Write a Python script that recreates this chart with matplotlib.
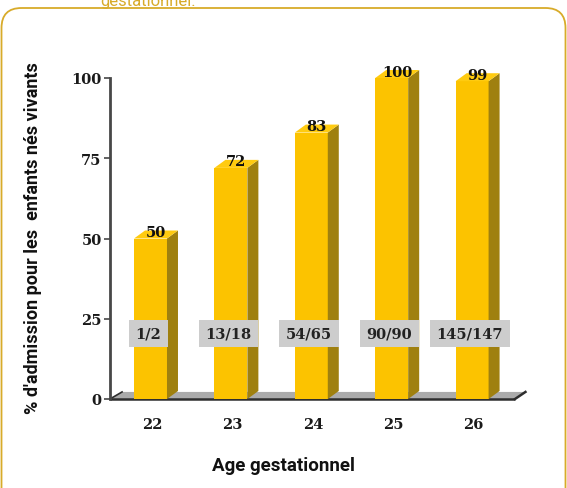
import matplotlib
matplotlib.use("Agg")
import matplotlib.pyplot as plt
from matplotlib.patches import Polygon, FancyBboxPatch

# data
ages = ["22", "23", "24", "25", "26"]
pct_admitted = [50, 72, 83, 100, 99]
counts = ["1/2", "13/18", "54/65", "90/90", "145/147"]
yticks = [0, 25, 50, 75, 100]

W, H = 567, 489
front = "#fcc300"
side = "#9f800f"
top = "#ffcb10"
gold = "#d8ab2a"
axis_col = "#474747"
narrow = ["Roboto", "DejaVu Sans"]
wide = ["DejaVu Serif"]

fig = plt.figure(figsize=(W / 100, H / 100), dpi=100)
fig.patch.set_facecolor("white")

### background layer in pixel coords: rounded frame + cut off caption
bg = fig.add_axes([0, 0, 1, 1], zorder=0)
bg.set_xlim(0, W)
bg.set_ylim(H, 0)
bg.axis("off")
frame = FancyBboxPatch((1.5, 9), W - 3, 600, boxstyle="round,pad=0,rounding_size=20",
                       fill=False, edgecolor=gold, lw=1.3)
bg.add_patch(frame)
bg.text(100, 6, "gestationnel.", color=gold, fontsize=12, family=narrow,
        ha="left", va="baseline")
bg.text(283, 466, "Age gestationnel", fontsize=13.5, fontweight="bold", family=narrow,
        ha="center", va="center", color="#111111")
bg.text(33, 238, "% d'admission pour les  enfants nés vivants", fontsize=13,
        fontweight="bold", family=narrow, rotation=90, ha="center", va="center",
        color="#111111")

### main axes, 0..100 spans pixel rows 400..79
left_px, right_px = 110, 530
y0_px, y100_px = 400, 79
ax = fig.add_axes([left_px / W, (H - y0_px) / H, (right_px - left_px) / W,
                   (y0_px - y100_px) / H], zorder=1)
ax.patch.set_alpha(0)
px_per_x = 80.4
xleft = -40.5 / px_per_x
ax.set_xlim(xleft, xleft + (right_px - left_px) / px_per_x)
ax.set_ylim(0, 100)

w = 0.41
dx = 11 / px_per_x
dy = 8 / 3.21

xs = list(range(len(ages)))

# floor
fx1 = (515 - 150.5) / px_per_x
floor = Polygon([[xleft, 0], [fx1, 0], [fx1 + 0.13, 2.2], [xleft + 0.15, 2.2]],
                closed=True, facecolor="#ababab", edgecolor="none", zorder=1,
                clip_on=False)
ax.add_patch(floor)
ax.plot([xleft, fx1], [0, 0], color="#2e2e2e", lw=1.8, zorder=2, clip_on=False,
        solid_capstyle="butt")
ax.plot([fx1, fx1 + 0.13], [0, 2.2], color="#2e2e2e", lw=1.8, zorder=2, clip_on=False)
ax.plot([xleft, xleft + 0.15], [0, 2.2], color="#2e2e2e", lw=1.2, zorder=2, clip_on=False)

# bars with fake depth
ax.bar(xs, pct_admitted, width=w, color=front, zorder=3, clip_on=False)
for x, v in zip(xs, pct_admitted):
    r = x + w / 2
    l = x - w / 2
    ax.add_patch(Polygon([[r, 0], [r + dx, dy], [r + dx, v + dy], [r, v]],
                         closed=True, facecolor=side, edgecolor="none", zorder=3,
                         clip_on=False))
    ax.add_patch(Polygon([[l, v], [r, v], [r + dx, v + dy], [l + dx, v + dy]],
                         closed=True, facecolor=top, edgecolor="none", zorder=3,
                         clip_on=False))
    ax.text(x + dx / 2, v + 2.0, str(v), ha="center", va="center", fontsize=10.5,
            fontweight="heavy", family=wide, color="#111111", zorder=5, clip_on=False)

# count boxes
for x, c in zip(xs, counts):
    ax.text(x - 0.03, 20.5, c, ha="center", va="center", fontsize=10.5,
            fontweight="bold", family=wide, color="#222222", zorder=6,
            bbox=dict(boxstyle="square,pad=0.45", facecolor="#cdcdcd", edgecolor="none"))

# axes styling
for s in ["top", "right", "bottom"]:
    ax.spines[s].set_visible(False)
ax.spines["left"].set_color(axis_col)
ax.spines["left"].set_linewidth(2)
ax.set_yticks(yticks)
ax.set_yticklabels([str(t) for t in yticks], fontsize=10.5, fontweight="bold",
                   family=wide, color="#1a1a1a")
ax.tick_params(axis="y", length=4, width=1.2, color=axis_col, pad=2)
ax.set_xticks([x + 0.02 for x in xs])
ax.set_xticklabels(ages, fontsize=10.5, fontweight="bold", family=wide, color="#1a1a1a")
ax.tick_params(axis="x", length=0, pad=13)

fig.savefig("out.png", dpi=100)
